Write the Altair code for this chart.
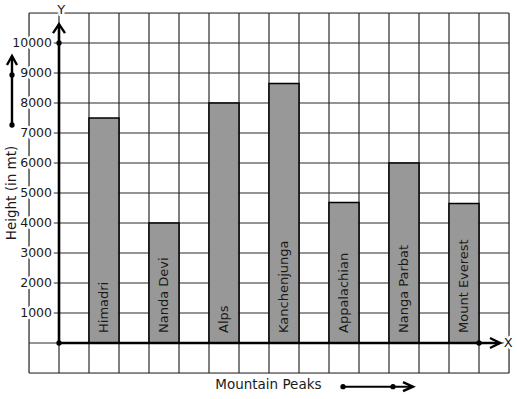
import altair as alt
import pandas as pd

# ---- data ----
peaks = ["Himadri", "Nanda Devi", "Alps", "Kanchenjunga", "Appalachian", "Nanga Parbat", "Mount Everest"]
heights = [7500, 4000, 8000, 8650, 4680, 6000, 4650]
y_ticks = [1000, 2000, 3000, 4000, 5000, 6000, 7000, 8000, 9000, 10000]
x_title = "Mountain Peaks"
y_title = "Height (in mt)"

# graph-paper coordinate system (1 column = 1 x unit, 1 row = 1000 y units)
X_DOMAIN = [-1, 15]
Y_DOMAIN = [-1000, 11000]
grid_x = list(range(-1, 16))
grid_y = list(range(-1000, 11001, 1000))

FONT = "DejaVu Sans"
INK = "#1a1a1a"

xs = alt.Scale(domain=X_DOMAIN, nice=False, zero=False)
ys = alt.Scale(domain=Y_DOMAIN, nice=False, zero=False)

bars_df = pd.DataFrame({
    "peak": peaks,
    "height": heights,
    "start": [2 * i + 1 for i in range(len(peaks))],
    "end": [2 * i + 2 for i in range(len(peaks))],
    "mid": [2 * i + 1.5 for i in range(len(peaks))],
    "base": [0] * len(peaks),
})

vgrid = alt.Chart(pd.DataFrame({"gx": grid_x})).mark_rule(color="#2a2a2a", strokeWidth=1.2).encode(
    x=alt.X("gx:Q", scale=xs, axis=None), y=alt.value(0), y2=alt.value(360))
hgrid = alt.Chart(pd.DataFrame({"gy": grid_y})).mark_rule(color="#2a2a2a", strokeWidth=1.2).encode(
    y=alt.Y("gy:Q", scale=ys, axis=None), x=alt.value(0), x2=alt.value(480))

bars = alt.Chart(bars_df).mark_rect(fill="#989898", stroke="black", strokeWidth=1.5).encode(
    x=alt.X("start:Q", scale=xs, axis=None), x2="end:Q",
    y=alt.Y("base:Q", scale=ys, axis=None), y2="height:Q")

bar_labels = alt.Chart(bars_df).mark_text(
    angle=270, align="left", baseline="middle", dx=10, font=FONT, fontSize=13, color=INK).encode(
    x=alt.X("mid:Q", scale=xs, axis=None), y=alt.Y("base:Q", scale=ys, axis=None), text="peak:N")

# axis lines and arrows (decoration), in graph-paper units
lines_df = pd.DataFrame({
    "x": [0, 0, 0, 14.7, -1.567, -1.567, 9.467, 11.8],
    "y": [0, 10630, 0, 0, 7267, 9567, -1457, -1457],
    "g": ["ya", "ya", "xa", "xa", "la", "la", "ba", "ba"],
    "w": [2.6, 2.6, 2.6, 2.6, 2.4, 2.4, 2.0, 2.0],
})
axis_lines = alt.Chart(lines_df).mark_line(color="black").encode(
    x=alt.X("x:Q", scale=xs, axis=None), y=alt.Y("y:Q", scale=ys, axis=None),
    detail="g:N", strokeWidth=alt.StrokeWidth("w:Q", scale=None))

heads_df = pd.DataFrame({
    "x": [0, 14.7, -1.567, 11.8],
    "y": [10630, 0, 9567, -1457],
    "shape": ["M-1,1.5L0,0L1,1.5", "M-2,-1L0,0L-2,1", "M-1,1.8L0,0L1,1.8", "M-2,-0.9L0,0L-2,0.9"],
    "size": [144, 100, 100, 100],
})
heads = alt.Chart(heads_df).mark_point(filled=False, color="black", strokeWidth=2.4, opacity=1).encode(
    x=alt.X("x:Q", scale=xs, axis=None), y=alt.Y("y:Q", scale=ys, axis=None),
    shape=alt.Shape("shape:N", scale=None), size=alt.Size("size:Q", scale=None))

dots_df = pd.DataFrame({
    "x": [0, 0, 14, -1.567, -1.567, 9.467, 11.133],
    "y": [0, 10000, 0, 7267, 8933, -1457, -1457],
})
dots = alt.Chart(dots_df).mark_point(filled=True, color="black", size=28, opacity=1).encode(
    x=alt.X("x:Q", scale=xs, axis=None), y=alt.Y("y:Q", scale=ys, axis=None))

ticks_df = pd.DataFrame({"v": y_ticks, "zero": [0] * len(y_ticks)})


def tick_text(halo):
    kw = dict(stroke="white", strokeWidth=5, strokeJoin="round", color="white") if halo else dict(color=INK)
    return alt.Chart(ticks_df).mark_text(align="right", baseline="middle", dx=-7, font=FONT, fontSize=12.5, **kw).encode(
        x=alt.X("zero:Q", scale=xs, axis=None), y=alt.Y("v:Q", scale=ys, axis=None), text=alt.Text("v:Q", format="d"))


letters_df = pd.DataFrame({"t": ["Y", "X"], "x": [0.07, 14.97], "y": [11100, 0]})


def letter_text(halo):
    kw = dict(stroke="white", strokeWidth=5, strokeJoin="round", color="white") if halo else dict(color=INK)
    return alt.Chart(letters_df).mark_text(align="center", baseline="middle", font=FONT, fontSize=13, **kw).encode(
        x=alt.X("x:Q", scale=xs, axis=None), y=alt.Y("y:Q", scale=ys, axis=None), text="t:N")


xt = alt.Chart(pd.DataFrame({"t": [x_title], "x": [6.98], "y": [-1400]})).mark_text(
    align="center", baseline="middle", font=FONT, fontSize=13.5, color=INK).encode(
    x=alt.X("x:Q", scale=xs, axis=None), y=alt.Y("y:Q", scale=ys, axis=None), text="t:N")
yt = alt.Chart(pd.DataFrame({"t": [y_title], "x": [-1.567], "y": [5000]})).mark_text(
    angle=270, align="center", baseline="middle", font=FONT, fontSize=13.5, color=INK).encode(
    x=alt.X("x:Q", scale=xs, axis=None), y=alt.Y("y:Q", scale=ys, axis=None), text="t:N")

chart = alt.layer(
    vgrid, hgrid, bars, bar_labels, axis_lines, heads, dots,
    tick_text(True), tick_text(False), letter_text(True), letter_text(False), xt, yt,
).properties(
    width=480, height=360, autosize="none",
    padding={"left": 29, "top": 13, "right": 8, "bottom": 26},
).configure_view(stroke=None).configure(background="white")

chart.save("out.html", embed_options={"renderer": "svg", "actions": False})
